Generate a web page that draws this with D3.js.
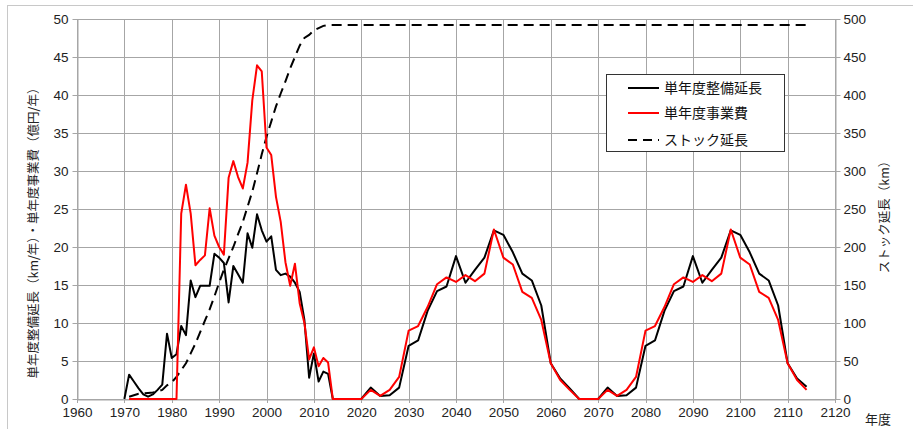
<!DOCTYPE html>
<html><head><meta charset="utf-8">
<script src="https://cdn.jsdelivr.net/npm/d3@7"></script>
<style>
body{margin:0;background:#fff}
text{font-family:"Liberation Sans","Noto Sans CJK JP",sans-serif}
.jp{font-family:"Noto Sans CJK JP",sans-serif}
</style>
</head><body><svg id="c" width="913" height="429"></svg>
<script>
// ---- data ----
const years = [1970,1971,1972,1973,1974,1975,1976,1977,1978,1979,1980,1981,1982,1983,1984,1985,1986,1987,1988,1989,
  1990,1991,1992,1993,1994,1995,1996,1997,1998,1999,2000,2001,2002,2003,2004,2005,2006,2007,2008,2009,2010,2011,2012,2013,2014,
  2016,2018,2020,2022,2024,2026,2028,2030,2032,2034,2036,2038,2040,2042,2044,2046,2048,2050,2052,2054,2056,2058,2060,2062,2064,2066,2068,
  2070,2072,2074,2076,2078,2080,2082,2084,2086,2088,2090,2092,2094,2096,2098,2100,2102,2104,2106,2108,2110,2112,2114];
const seriesNames = ["単年度整備延長","単年度事業費","ストック延長"];
const lengthPerYear = [0,3.2,2.3,1.4,0.6,0.3,0.6,1.2,1.9,8.6,5.4,5.9,9.6,8.4,15.6,13.4,14.9,14.9,14.9,19.1,
  18.6,17.9,12.7,17.5,16.4,15.3,21.8,19.9,24.3,22.2,20.7,21.4,17.0,16.3,16.5,16.1,15.3,14.1,10.4,2.8,6.0,2.3,3.6,3.3,0,
  0,0,0,1.5,0.4,0.5,1.5,7.0,7.7,11.6,14.2,14.8,18.8,15.3,17.0,18.6,22.2,21.6,19.3,16.5,15.6,12.3,4.7,2.7,1.4,0,0,
  0,1.5,0.4,0.5,1.5,7.0,7.7,11.6,14.2,14.8,18.8,15.3,17.0,18.6,22.2,21.6,19.3,16.5,15.6,12.3,4.7,2.7,1.6];
const costPerYear = [null,0,0,0,0,0,0,0,0,0,0,0,24.4,28.2,24.4,17.6,18.3,18.9,25.1,21.5,
  20.0,19.0,29.1,31.3,29.2,27.7,31.1,39.3,43.9,43.1,33.1,32.1,26.6,23.3,18.0,14.9,17.8,12.6,10.0,5.2,6.8,4.3,5.4,4.8,0,
  0,0,0,1.2,0.4,1.2,2.9,9.0,9.6,12.1,15.1,16.0,15.4,16.3,15.5,16.5,22.3,18.6,17.7,14.1,13.3,10.4,4.7,2.5,1.2,0,0,
  0,1.2,0.4,1.2,2.9,9.0,9.6,12.1,15.1,16.0,15.4,16.3,15.5,16.5,22.3,18.6,17.7,14.1,13.3,10.4,4.7,2.5,1.2];
const stockLength = [null,3,5,7,7.5,8,8.5,10,12,18,22,29,38,47,60,73,88,103,118,135,
  153,170,185,200,217,233,253,273,297,322,345,365,385,402,418,435,450,465,475,479,485,488,491,492,492,
  492,492,492,492,492,492,492,492,492,492,492,492,492,492,492,492,492,492,492,492,492,492,492,492,492,492,492,
  492,492,492,492,492,492,492,492,492,492,492,492,492,492,492,492,492,492,492,492,492,492,492];
const xTicks = [1960,1970,1980,1990,2000,2010,2020,2030,2040,2050,2060,2070,2080,2090,2100,2110,2120];
const yLeftTicks = [0,5,10,15,20,25,30,35,40,45,50];
const yRightTicks = [0,50,100,150,200,250,300,350,400,450,500];

// ---- chart ----
const svg = d3.select("#c");
const L=77, R=835, T=19, B=399;
const x = d3.scaleLinear().domain([1960,2120]).range([L,R]);
const yL = d3.scaleLinear().domain([0,50]).range([B,T]);
const yR = d3.scaleLinear().domain([0,500]).range([B,T]);
const grid = "#a6a6a6";

// outer border
svg.append("rect").attr("x",7.5).attr("y",5.5).attr("width",920).attr("height",440)
  .attr("fill","none").attr("stroke","#c8c8c8");

// gridlines
svg.append("g").selectAll("line").data(yLeftTicks).join("line")
  .attr("x1",L).attr("x2",R).attr("y1",d=>Math.round(yL(d))+0.5).attr("y2",d=>Math.round(yL(d))+0.5)
  .attr("stroke",grid).attr("stroke-width",1);
svg.append("g").selectAll("line").data(xTicks).join("line")
  .attr("y1",T).attr("y2",B+4).attr("x1",d=>Math.round(x(d))+0.5).attr("x2",d=>Math.round(x(d))+0.5)
  .attr("stroke",grid).attr("stroke-width",1);

// axes
function styleAxis(g){
  g.select(".domain").attr("stroke",grid);
  g.selectAll(".tick line").attr("stroke",grid);
  g.selectAll(".tick text").attr("fill","#222").style("font-size","13.5px")
    .style("font-family","'Liberation Sans',sans-serif");
}
svg.append("g").attr("transform",`translate(${L+0.5},0)`)
  .call(d3.axisLeft(yL).tickValues(yLeftTicks).tickSize(5).tickSizeOuter(0).tickPadding(4))
  .call(styleAxis);
svg.append("g").attr("transform",`translate(${R+0.5},0)`)
  .call(d3.axisRight(yR).tickValues(yRightTicks).tickSize(5).tickSizeOuter(0).tickPadding(3))
  .call(styleAxis);
svg.append("g").attr("transform",`translate(0,${B+0.5})`)
  .call(d3.axisBottom(x).tickValues(xTicks).tickFormat(d3.format("d")).tickSize(0).tickSizeOuter(0).tickPadding(8))
  .call(styleAxis);

// lines
const data = years.map((yr,i)=>({yr, a:lengthPerYear[i], b:costPerYear[i], c:stockLength[i]}));
const lineA = d3.line().defined(d=>d.a!=null).x(d=>x(d.yr)).y(d=>yL(d.a));
const lineB = d3.line().defined(d=>d.b!=null).x(d=>x(d.yr)).y(d=>yL(d.b));
const lineC = d3.line().defined(d=>d.c!=null).x(d=>x(d.yr)).y(d=>yR(d.c));
svg.append("path").datum(data).attr("d",lineC).attr("fill","none").attr("stroke","#000")
  .attr("stroke-width",2).attr("stroke-dasharray","10,6");
svg.append("path").datum(data).attr("d",lineA).attr("fill","none").attr("stroke","#000")
  .attr("stroke-width",2).attr("stroke-linejoin","round");
svg.append("path").datum(data).attr("d",lineB).attr("fill","none").attr("stroke","#ff0000")
  .attr("stroke-width",2).attr("stroke-linejoin","round");

// axis titles
svg.append("text").attr("class","jp").attr("transform","translate(38,230) rotate(-90)")
  .attr("text-anchor","middle").attr("fill","#222").style("font-size","12.5px")
  .text("単年度整備延長（km/年）・単年度事業費（億円/年）");
svg.append("text").attr("class","jp").attr("transform","translate(889,214) rotate(-90)")
  .attr("text-anchor","middle").attr("fill","#222").style("font-size","12.5px")
  .text("ストック延長（km）");
svg.append("text").attr("class","jp").attr("x",878).attr("y",424).attr("text-anchor","middle")
  .attr("fill","#222").style("font-size","13px").text("年度");

// legend
const lg = svg.append("g");
lg.append("rect").attr("x",606.5).attr("y",74.5).attr("width",178).attr("height",77)
  .attr("fill","#fff").attr("stroke","#333").attr("stroke-width",1);
const legItems = [
  {name:seriesNames[0], color:"#000", dash:null, y:88},
  {name:seriesNames[1], color:"#ff0000", dash:null, y:113},
  {name:seriesNames[2], color:"#000", dash:"9,6", y:140}
];
legItems.forEach(it=>{
  lg.append("line").attr("x1",628).attr("x2",659).attr("y1",it.y).attr("y2",it.y)
    .attr("stroke",it.color).attr("stroke-width",2).attr("stroke-dasharray",it.dash);
  lg.append("text").attr("class","jp").attr("x",664).attr("y",it.y).attr("dy","0.35em")
    .attr("fill","#111").style("font-size","14px").text(it.name);
});
</script></body></html>
